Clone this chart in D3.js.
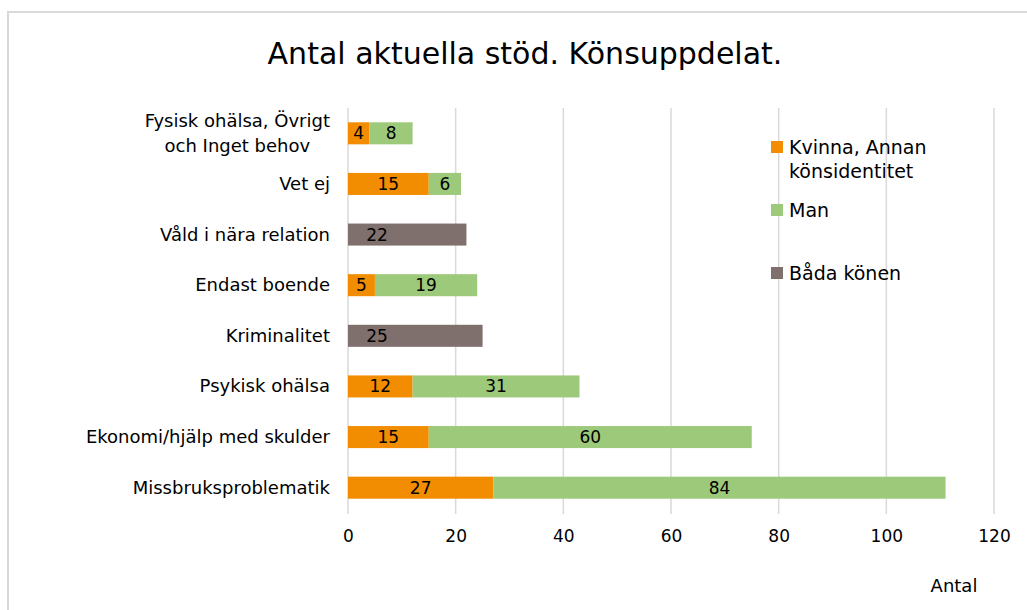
<!doctype html>
<html>
<head>
<meta charset="UTF-8">
<script src="https://d3js.org/d3.v7.min.js"></script>
<style>
  body { margin: 0; background: #fff; }
  text { font-family: "DejaVu Sans", sans-serif; fill: #000; }
</style>
</head>
<body>
<script>
// categories from top to bottom
var categories = ["Fysisk ohälsa, Övrigt|och Inget behov", "Vet ej", "Våld i nära relation", "Endast boende",
                  "Kriminalitet", "Psykisk ohälsa", "Ekonomi/hjälp med skulder", "Missbruksproblematik"];
var kvinna = [4, 15, 0, 5, 0, 12, 15, 27];
var man    = [8, 6, 0, 19, 0, 31, 60, 84];
var bada   = [0, 0, 22, 0, 25, 0, 0, 0];
var seriesNames = ["Kvinna, Annan|könsidentitet", "Man", "Båda könen"];
var colors = ["#f28c00", "#9dc97a", "#7f706d"];
var xTicks = [0, 20, 40, 60, 80, 100, 120];

var width = 1027, height = 610;
var svg = d3.select("body").append("svg").attr("width", width).attr("height", height);

// outer frame
svg.append("path")
  .attr("d", "M8," + height + "V12H" + width)
  .attr("fill", "none").attr("stroke", "#d9d9d9").attr("stroke-width", 2);

svg.append("text")
  .attr("x", 525).attr("y", 64)
  .attr("text-anchor", "middle")
  .style("font-size", "30px")
  .text("Antal aktuella stöd. Könsuppdelat.");

var x = d3.scaleLinear().domain([0, 120]).range([348, 994]);
var y = d3.scaleBand().domain(categories).range([108, 513]).paddingInner(0.565).paddingOuter(0.2825);

// gridlines
svg.append("g").selectAll("line").data(xTicks).enter().append("line")
  .attr("x1", d => x(d)).attr("x2", d => x(d))
  .attr("y1", 108).attr("y2", 514)
  .attr("stroke", "#d9d9d9").attr("stroke-width", 1.5);

var xAxis = svg.append("g").attr("transform", "translate(0,514)")
  .call(d3.axisBottom(x).tickValues(xTicks).tickSize(0).tickPadding(16));
xAxis.select(".domain").remove();
xAxis.selectAll("text").style("font-size", "17px").style("font-family", "DejaVu Sans").attr("fill", "#000");

svg.append("text").attr("x", 954).attr("y", 592).attr("text-anchor", "middle")
  .style("font-size", "18px").text("Antal");

// stacked segments
var rows = categories.map((c, i) => ({cat: c, vals: [kvinna[i], man[i], bada[i]]}));
rows.forEach(function(r) {
  var start = 0;
  r.vals.forEach(function(v, s) {
    if (!v) return;
    svg.append("rect")
      .attr("x", x(start)).attr("y", y(r.cat))
      .attr("width", x(start + v) - x(start)).attr("height", y.bandwidth())
      .attr("fill", colors[s]);
    var lx = s == 2 ? x(start) + 29 : (x(start) + x(start + v)) / 2;
    svg.append("text")
      .attr("x", lx).attr("y", y(r.cat) + y.bandwidth() / 2 + 6)
      .attr("text-anchor", "middle")
      .style("font-size", "17px")
      .text(v);
    start += v;
  });
});

// category labels
categories.forEach(function(c) {
  var lines = c.split("|");
  var cy = y(c) + y.bandwidth() / 2;
  if (lines.length == 1) {
    svg.append("text").attr("x", 330).attr("y", cy + 6)
      .attr("text-anchor", "end").style("font-size", "18px").text(c);
  } else {
    var t = svg.append("text").attr("text-anchor", "middle").style("font-size", "18px");
    var tmp = svg.append("text").style("font-size", "18px").text(lines[0]);
    var w = tmp.node().getComputedTextLength();
    tmp.remove();
    lines.forEach(function(l, k) {
      t.append("tspan").attr("x", 330 - w / 2).attr("y", cy - 6 + k * 25).text(l);
    });
  }
});

// legend
var legY = [147, 210, 273];
seriesNames.forEach(function(n, i) {
  svg.append("rect").attr("x", 771).attr("y", legY[i] - 6).attr("width", 12).attr("height", 12).attr("fill", colors[i]);
  var t = svg.append("text").style("font-size", "19px");
  n.split("|").forEach(function(l, k) {
    t.append("tspan").attr("x", 789).attr("y", legY[i] + 7 + k * 24).text(l);
  });
});
</script>
</body>
</html>
